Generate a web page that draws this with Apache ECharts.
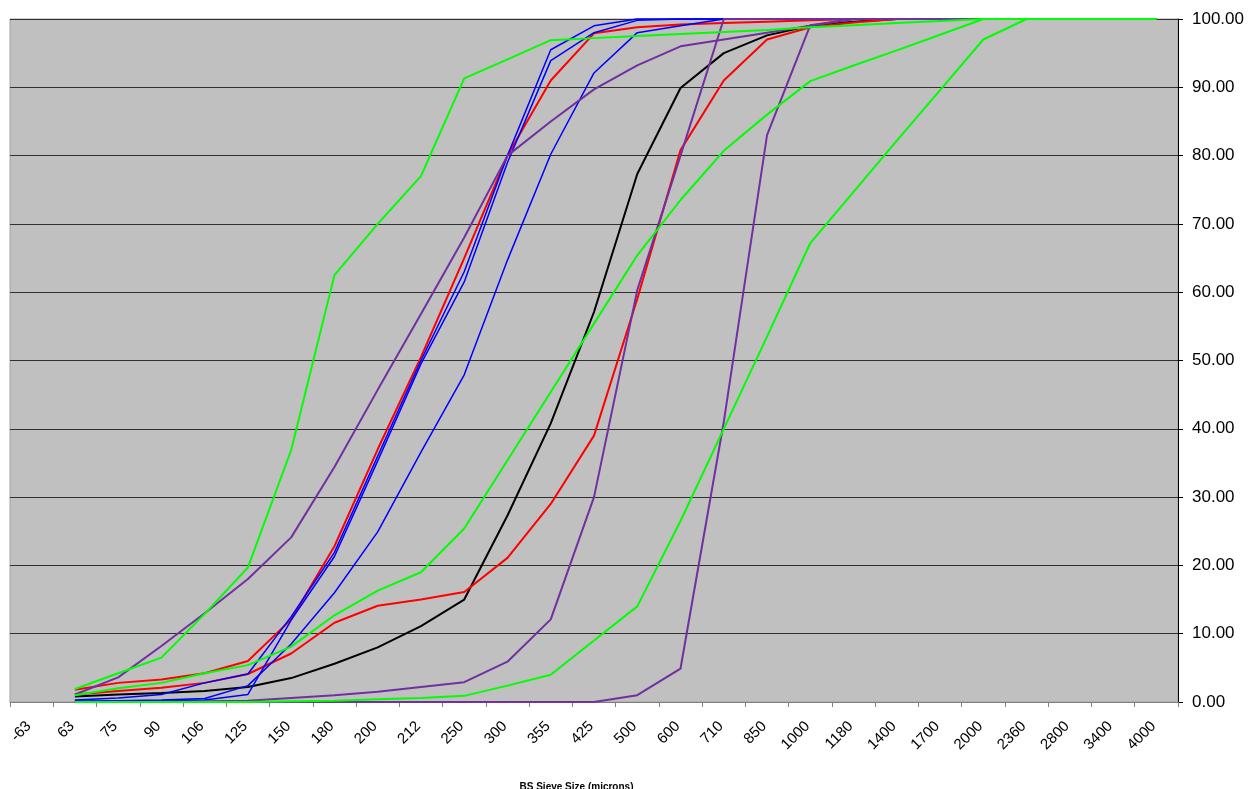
<!DOCTYPE html>
<html>
<head>
<meta charset="utf-8">
<script src="https://cdn.jsdelivr.net/npm/echarts@6/dist/echarts.min.js"></script>
<style>
html,body{margin:0;padding:0;background:#fff;}
#chart{width:1255px;height:789px;}
</style>
</head>
<body>
<div id="chart"></div>
<script>
const categories = ['-63','63','75','90','106','125','150','180','200','212','250','300','355','425','500','600','710','850','1000','1180','1400','1700','2000','2360','2800','3400','4000'];
const yTicks = [0,10,20,30,40,50,60,70,80,90,100];

const black1 = [null,0.8,1.1,1.3,1.6,2.2,3.5,5.6,8.0,11.1,15.0,27.3,40.8,57.1,77.3,89.9,95.0,97.6,99.0,99.6,100,100,100,100,100,100,100];
const red1 = [null,1.8,2.8,3.3,4.2,6.0,12.1,22.8,37,50.5,65,80,91,97.9,98.8,99.2,99.4,99.6,99.8,100,100,100,100,100,100,100,100];
const red2 = [null,1.1,1.6,2.1,2.8,4.1,7.1,11.6,14.1,15.0,16.1,21.1,29.0,39.0,59.0,80.8,91.0,97.0,98.8,99.5,100,100,100,100,100,100,100];
const blue1 = [null,0.3,0.6,1.1,2.8,4.1,12.5,21.9,36,50,63,80,95.5,99.0,100,100,100,100,100,100,100,100,100,100,100,100,100];
const blue2 = [null,0.1,0.1,0.2,0.3,1.1,12,21.3,35.3,49.5,61.5,79,93.9,98,99.8,100,100,100,100,100,100,100,100,100,100,100,100];
const blue3 = [null,0.1,0.2,0.3,0.5,2.4,8.5,16.0,24.9,36.6,47.9,64.7,80.2,92.1,98.0,99.0,100,100,100,100,100,100,100,100,100,100,100];
const purple1 = [null,1.1,3.6,8.2,13.0,18.0,24.1,34.4,45.7,56.8,68,80,85,89.7,93.2,96,97,98,99,100,100,100,100,100,100,100,100];
const purple2 = [null,0,0,0,0.1,0.2,0.6,1.0,1.5,2.2,2.9,5.9,12.1,30,60.3,80,100,100,100,100,100,100,100,100,100,100,100];
const purple3 = [null,0,0,0,0,0,0,0,0,0,0,0,0,0,1.0,4.9,41,83,99.1,100,100,100,100,100,100,100,100];
const green1 = [null,1.9,4.2,6.5,12.9,19.7,36.9,62.5,70,77,91.3,94.1,96.9,97.2,97.5,97.8,98.1,98.4,98.8,99.1,99.4,99.7,100,100,100,100,100];
const green2 = [null,1.0,2.0,2.8,4.2,5.4,8.1,12.7,16.3,19.0,25.4,35.4,45.4,55.4,65.4,73.5,80.7,86,90.9,93.2,95.4,97.7,100,100,100,100,100];
const green3 = [null,0,0,0,0,0,0.1,0.2,0.4,0.6,0.9,2.4,4.0,9.0,14.0,26.5,40,53.5,67.2,74.7,82.2,89.6,97,100,100,100,100];

const BLACK = '#000000', RED = '#ff0000', BLUE = '#0000ff', PURPLE = '#7030a0', GREEN = '#00ff00';

function line(name, data, color, width) {
  return {
    name: name, type: 'line', data: data, symbol: 'none', showSymbol: false,
    clip: false, animation: false, connectNulls: false,
    lineStyle: { color: color, width: width }, itemStyle: { color: color }
  };
}

const chart = echarts.init(document.getElementById('chart'), null, { renderer: 'canvas' });
chart.setOption({
  animation: false,
  backgroundColor: '#ffffff',
  textStyle: { fontFamily: 'Liberation Sans, Arial, sans-serif' },
  grid: {
    left: 10, right: 77, top: 19, bottom: 87,
    show: true, backgroundColor: '#c0c0c0', borderColor: '#a0a0a0', borderWidth: 1,
    outerBoundsMode: 'none', containLabel: false
  },
  xAxis: {
    type: 'category',
    data: categories,
    boundaryGap: true,
    name: 'BS Sieve Size (microns)',
    nameLocation: 'middle',
    nameGap: 80,
    nameTextStyle: { fontSize: 10, fontWeight: 'bold', color: '#000', padding: [0, 35, 0, 0] },
    axisLine: { show: true, lineStyle: { color: '#808080', width: 1 } },
    axisTick: { show: true, length: 5, interval: 0, lineStyle: { color: '#808080' } },
    axisLabel: { interval: 0, rotate: 45, fontSize: 15, color: '#000', margin: 19, padding: [0, 4, 0, 0] },
    splitLine: { show: false }
  },
  yAxis: {
    type: 'value',
    position: 'right',
    min: yTicks[0], max: yTicks[yTicks.length - 1], interval: 10,
    axisLine: { show: true, lineStyle: { color: '#000', width: 1 } },
    axisTick: { show: true, length: 5, lineStyle: { color: '#000' } },
    axisLabel: { fontSize: 17, color: '#000', margin: 14, formatter: v => v.toFixed(2) },
    splitLine: { show: true, lineStyle: { color: '#303030', width: 1 } }
  },
  series: [
    line('Black', black1, BLACK, 2),
    line('Red 1', red1, RED, 2),
    line('Red 2', red2, RED, 2),
    line('Blue 1', blue1, BLUE, 1.5),
    line('Blue 2', blue2, BLUE, 1.5),
    line('Blue 3', blue3, BLUE, 1.5),
    line('Purple 1', purple1, PURPLE, 2),
    line('Purple 2', purple2, PURPLE, 2),
    line('Purple 3', purple3, PURPLE, 2),
    line('Green 1', green1, GREEN, 2),
    line('Green 2', green2, GREEN, 2),
    line('Green 3', green3, GREEN, 2)
  ]
});
</script>
</body>
</html>
